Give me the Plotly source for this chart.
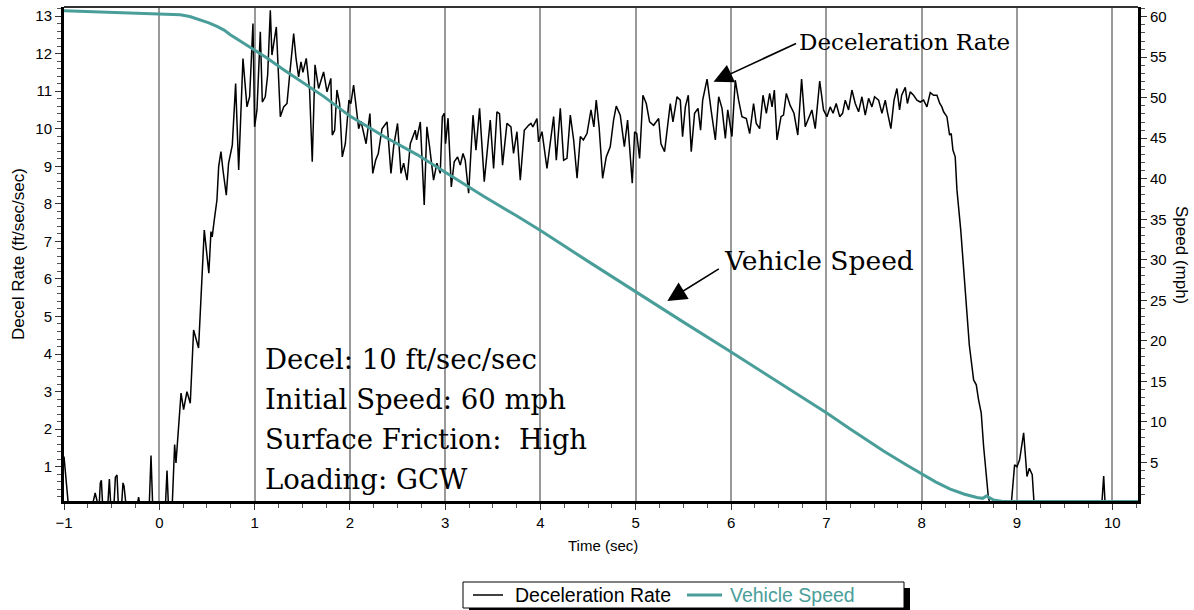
import plotly.graph_objects as go

# ---------------- data ----------------
decel_time = [-1.0, -0.955, -0.70, -0.673, -0.645, -0.63, -0.619, -0.608, -0.595, -0.54, -0.524, -0.51,
              -0.475, -0.461, -0.444, -0.43, -0.395, -0.381, -0.37, -0.35, -0.23, -0.217, -0.205, -0.105,
              -0.087, -0.07, 0.065, 0.081, 0.095, 0.136, 0.161, 0.175, 0.228, 0.255, 0.29, 0.325, 0.36,
              0.412, 0.472, 0.52, 0.542, 0.555, 0.577, 0.605, 0.623, 0.647, 0.668, 0.703, 0.727, 0.766,
              0.801, 0.833, 0.878, 0.92, 0.948, 0.983, 1.0, 1.025, 1.06, 1.081, 1.112, 1.137, 1.165, 1.182,
              1.228, 1.27, 1.305, 1.34, 1.368, 1.41, 1.435, 1.462, 1.487, 1.507, 1.542, 1.577, 1.605, 1.634,
              1.672, 1.724, 1.76, 1.80, 1.815, 1.84, 1.864, 1.892, 1.92, 1.952, 1.99, 2.01, 2.039, 2.067,
              2.092, 2.116, 2.144, 2.17, 2.21, 2.24, 2.27, 2.298, 2.337, 2.39, 2.431, 2.459, 2.5, 2.536,
              2.564, 2.6, 2.634, 2.686, 2.70, 2.739, 2.78, 2.808, 2.836, 2.878, 2.913, 2.948, 2.97, 2.99,
              3.004, 3.03, 3.064, 3.095, 3.13, 3.158, 3.187, 3.21, 3.246, 3.292, 3.323, 3.361, 3.41, 3.439,
              3.473, 3.508, 3.543, 3.57, 3.602, 3.648, 3.69, 3.717, 3.753, 3.788, 3.83, 3.875, 3.9, 3.92,
              3.963, 3.98, 4.016, 4.068, 4.103, 4.138, 4.166, 4.208, 4.243, 4.278, 4.313, 4.348, 4.384,
              4.418, 4.45, 4.488, 4.53, 4.56, 4.585, 4.615, 4.652, 4.69, 4.732, 4.767, 4.795, 4.837, 4.88,
              4.914, 4.963, 4.988, 5.01, 5.04, 5.075, 5.11, 5.145, 5.187, 5.24, 5.264, 5.302, 5.334, 5.362,
              5.39, 5.432, 5.467, 5.491, 5.52, 5.551, 5.582, 5.617, 5.653, 5.68, 5.702, 5.748, 5.793, 5.835,
              5.87, 5.905, 5.94, 5.965, 6.009, 6.044, 6.079, 6.114, 6.16, 6.195, 6.236, 6.264, 6.3, 6.335,
              6.37, 6.405, 6.43, 6.454, 6.482, 6.524, 6.55, 6.58, 6.62, 6.66, 6.70, 6.74, 6.778, 6.813,
              6.848, 6.883, 6.93, 6.97, 7.006, 7.04, 7.07, 7.103, 7.14, 7.17, 7.198, 7.233, 7.268, 7.303,
              7.338, 7.373, 7.408, 7.443, 7.478, 7.506, 7.548, 7.583, 7.618, 7.64, 7.677, 7.71, 7.74, 7.768,
              7.79, 7.828, 7.85, 7.88, 7.915, 7.95, 7.985, 8.02, 8.055, 8.09, 8.125, 8.16, 8.19, 8.212, 8.23,
              8.265, 8.293, 8.31, 8.328, 8.352, 8.37, 8.41, 8.45, 8.50, 8.545, 8.573, 8.597, 8.625, 8.65,
              8.685, 8.70, 8.72, 8.94, 8.975, 9.0, 9.028, 9.07, 9.105, 9.13, 9.16, 9.18, 9.89, 9.90, 9.91,
              9.925, 10.27]
decel_rate = [1.27, 0, 0, 0.30, 0, 0, 0.57, 0.64, 0, 0, 0.67, 0,
              0, 0.72, 0.78, 0, 0, 0.57, 0.48, 0, 0, 0.19, 0, 0,
              1.30, 0, 0, 0.90, 0, 0, 1.59, 1.10, 2.96, 2.52, 3.00, 2.69, 4.64,
              4.16, 7.30, 6.15, 7.26, 7.12, 7.57, 8.10, 8.99, 9.39, 8.90, 8.23, 9.08, 9.56,
              11.20, 8.90, 11.87, 10.58, 10.85, 12.80, 10.05, 10.50, 12.58, 10.71, 10.85, 11.43, 13.15, 11.96,
              12.71, 10.32, 10.58, 10.67, 11.43, 12.53, 11.87, 11.38, 11.78, 11.50, 11.87, 11.03, 9.12, 11.70,
              11.07, 11.51, 10.98, 11.34, 9.83, 9.96, 11.03, 10.67, 9.25, 9.60, 10.76, 10.67, 11.16, 10.50,
              10.00, 10.20, 9.87, 9.60, 10.40, 8.81, 9.16, 9.34, 10.00, 10.18, 8.81, 9.52, 10.14, 8.81,
              9.08, 8.63, 9.60, 9.96, 9.70, 10.18, 7.97, 10.05, 9.52, 8.63, 9.08, 8.81, 10.32, 10.41,
              9.60, 10.28, 8.45, 9.12, 9.25, 9.03, 9.34, 9.16, 8.28, 10.36, 9.43, 10.54, 8.59, 9.34,
              10.23, 8.94, 10.45, 10.40, 9.03, 10.14, 10.05, 9.34, 9.92, 8.63, 9.96, 10.09, 10.14, 10.05,
              10.27, 9.65, 9.92, 8.94, 9.60, 10.32, 9.16, 10.54, 9.16, 9.21, 10.36, 9.70, 8.68,
              9.79, 9.70, 9.87, 10.50, 10.05, 10.76, 10.05, 8.68, 9.25, 9.52, 10.23, 10.60, 10.36, 9.52,
              10.23, 8.55, 9.92, 9.87, 9.21, 10.89, 10.67, 10.18, 10.09, 10.27, 9.60, 9.39, 10.14, 10.67,
              10.18, 10.85, 10.76, 9.79, 10.58, 10.89, 9.39, 10.41, 10.54, 9.96, 10.76, 11.32, 10.45, 9.70,
              10.85, 10.54, 9.74, 10.50, 9.79, 11.29, 10.76, 10.32, 10.27, 9.87, 10.67, 10.14, 10.00, 10.89,
              10.41, 10.94, 10.58, 11.03, 9.70, 10.32, 10.36, 10.94, 10.62, 10.41, 9.83, 11.32, 10.05, 10.27,
              10.50, 10.00, 11.27, 10.50, 10.32, 10.58, 10.41, 10.67, 10.32, 10.41, 10.76, 10.50, 11.03, 10.67,
              10.45, 10.85, 10.36, 10.81, 10.58, 10.85, 10.76, 10.41, 10.76, 10.45, 10.00, 10.76, 11.07, 10.50,
              10.89, 11.10, 10.67, 10.98, 10.89, 10.76, 10.71, 10.76, 10.58, 10.96, 10.89, 10.89, 10.67, 10.58, 10.45,
              10.32, 9.83, 9.87, 9.43, 9.25, 8.37, 7.30, 5.97, 4.24, 3.31, 3.18, 2.78, 2.43, 1.54,
              0.65, 0.18, 0, 0, 1.05, 1.00, 1.19, 1.90, 0.74, 0.96, 0.79, 0, 0, 0.35, 0.75,
              0, 0]

speed_time = [-1.0, -0.7, -0.4, -0.09, 0.0, 0.12, 0.22, 0.32, 0.43, 0.52, 0.605, 0.68, 0.745, 0.85,
              0.955, 1.13, 1.305, 1.514, 1.724, 2.004, 2.354, 2.704, 3.05, 3.403, 3.753, 4.0, 4.5, 5.0,
              5.5, 6.0, 6.5, 7.0, 7.25, 7.6, 7.85, 8.02, 8.15, 8.3, 8.45, 8.58, 8.64, 8.68, 8.755, 8.85,
              10.27]
speed_mph = [60.74, 60.62, 60.55, 60.46, 60.37, 60.33, 60.25, 60.02, 59.63, 59.25, 58.8, 58.35, 57.78,
             57.0, 56.14, 54.9, 53.46, 51.82, 50.17, 47.7, 45.24, 42.98, 40.45, 37.84, 35.4, 33.6, 29.8,
             26.0, 22.3, 18.6, 14.9, 11.1, 9.1, 6.4, 4.6, 3.46, 2.55, 1.68, 1.05, 0.65, 0.55, 0.85, 0.35,
             0.15, 0.15]

info_lines = ["Decel: 10 ft/sec/sec", "Initial Speed: 60 mph", "Surface Friction:\u00a0\u00a0High",
              "Loading: GCW"]

TEAL = "#4a9e9a"
SANS = "Liberation Sans, Arial, sans-serif"
SERIF = "DejaVu Serif, Palatino Linotype, serif"

fig = go.Figure()
fig.add_trace(go.Scatter(x=decel_time, y=decel_rate, mode="lines", name="Deceleration Rate",
                         line=dict(color="black", width=1.5), yaxis="y"))
fig.add_trace(go.Scatter(x=speed_time, y=speed_mph, mode="lines", name="Vehicle Speed",
                         line=dict(color=TEAL, width=3), yaxis="y2"))

axis_font = dict(family=SANS, size=15, color="black")

# plot box in pixels: left 64, right 1138, top 7, bottom 501
L, R, T, B = 64, 1138, 7, 501
W, H = R - L, B - T


def px(xp):
    return (xp - L) / W


def py(yp):
    return (B - yp) / H


fig.update_layout(
    width=1194, height=610,
    margin=dict(l=L, r=1194 - R, t=T, b=610 - B),
    paper_bgcolor="white", plot_bgcolor="white",
    font=dict(family=SANS, color="black"),
    showlegend=False,
    xaxis=dict(range=[-1, 10.27], dtick=1, tick0=0, showgrid=True, gridcolor="#999999", gridwidth=1.5,
               zeroline=False, showline=True, linecolor="black", linewidth=3,
               ticks="outside", ticklen=6, tickcolor="#333", tickwidth=1, tickfont=axis_font,
               minor=dict(dtick=0.25, ticks="outside", ticklen=4, tickcolor="#555", showgrid=False)),
    yaxis=dict(range=[0.087, 13.24], dtick=1, tick0=0, showgrid=False, zeroline=False,
               showline=True, linecolor="black", linewidth=3,
               ticks="outside", ticklen=6, tickcolor="#333", tickfont=axis_font,
               minor=dict(dtick=0.2, ticks="outside", ticklen=4, tickcolor="#555", showgrid=False)),
    yaxis2=dict(range=[0.22, 61.2], dtick=5, tick0=0, overlaying="y", side="right", showgrid=False,
                zeroline=False, showline=True, linecolor="black", linewidth=3,
                ticks="outside", ticklen=6, tickcolor="#333", tickfont=axis_font,
                minor=dict(dtick=1, ticks="outside", ticklen=4, tickcolor="#555", showgrid=False)),
)

# top frame border
fig.add_shape(type="line", xref="paper", yref="paper", x0=0, x1=1, y0=1, y1=1,
              line=dict(color="#333333", width=2))

# legend box (shadow, frame, samples, labels)
fig.add_shape(type="rect", xref="paper", yref="paper", x0=px(469), x1=px(910), y0=py(614), y1=py(588),
              fillcolor="black", line=dict(width=0))
fig.add_shape(type="rect", xref="paper", yref="paper", x0=px(463), x1=px(904), y0=py(608), y1=py(582),
              fillcolor="white", line=dict(color="black", width=1))
fig.add_shape(type="line", xref="paper", yref="paper", x0=px(473), x1=px(503), y0=py(595), y1=py(595),
              line=dict(color="black", width=1.5))
fig.add_shape(type="line", xref="paper", yref="paper", x0=px(687), x1=px(722), y0=py(595), y1=py(595),
              line=dict(color=TEAL, width=3))
fig.add_annotation(text="Deceleration Rate", xref="paper", yref="paper", x=px(513), y=py(595),
                   xanchor="left", yanchor="middle", showarrow=False,
                   font=dict(family=SANS, size=19.5, color="black"))
fig.add_annotation(text="Vehicle Speed", xref="paper", yref="paper", x=px(728), y=py(595),
                   xanchor="left", yanchor="middle", showarrow=False,
                   font=dict(family=SANS, size=19.5, color=TEAL))

# axis titles
fig.add_annotation(text="Decel Rate (ft/sec/sec)", xref="paper", yref="paper", x=px(18), y=0.5,
                   xanchor="center", yanchor="middle", textangle=-90, showarrow=False,
                   font=dict(family=SANS, size=17, color="black"))
fig.add_annotation(text="Speed (mph)", xref="paper", yref="paper", x=px(1182), y=py(255),
                   xanchor="center", yanchor="middle", textangle=90, showarrow=False,
                   font=dict(family=SANS, size=17, color="black"))
fig.add_annotation(text="Time (sec)", xref="paper", yref="paper", x=px(603), y=py(545),
                   xanchor="center", yanchor="middle", showarrow=False,
                   font=dict(family=SANS, size=15, color="black"))

# info block
for i, line in enumerate(info_lines):
    yc = 359 + 40 * i
    fig.add_annotation(text=line, xref="paper", yref="paper", x=px(263), y=py(yc),
                       xanchor="left", yanchor="middle", showarrow=False,
                       font=dict(family=SERIF, size=27.5, color="black"))

# callouts
fig.add_annotation(text="Deceleration Rate", x=6.695, y=12.30, xref="x", yref="y", xanchor="left",
                   yanchor="middle", showarrow=False, font=dict(family=SERIF, size=23, color="black"))
fig.add_annotation(text="", x=5.816, y=11.25, xref="x", yref="y", ax=84, ay=-39, showarrow=True,
                   arrowhead=2, arrowsize=2.4, arrowwidth=1.6, arrowcolor="black")
fig.add_annotation(text="Vehicle Speed", x=5.908, y=6.48, xref="x", yref="y", xanchor="left",
                   yanchor="middle", showarrow=False, font=dict(family=SERIF, size=26.5, color="black"))
fig.add_annotation(text="", x=5.331, y=5.415, xref="x", yref="y", ax=53, ay=-33, showarrow=True,
                   arrowhead=2, arrowsize=2.4, arrowwidth=1.6, arrowcolor="black")

fig.write_html("out.html")
